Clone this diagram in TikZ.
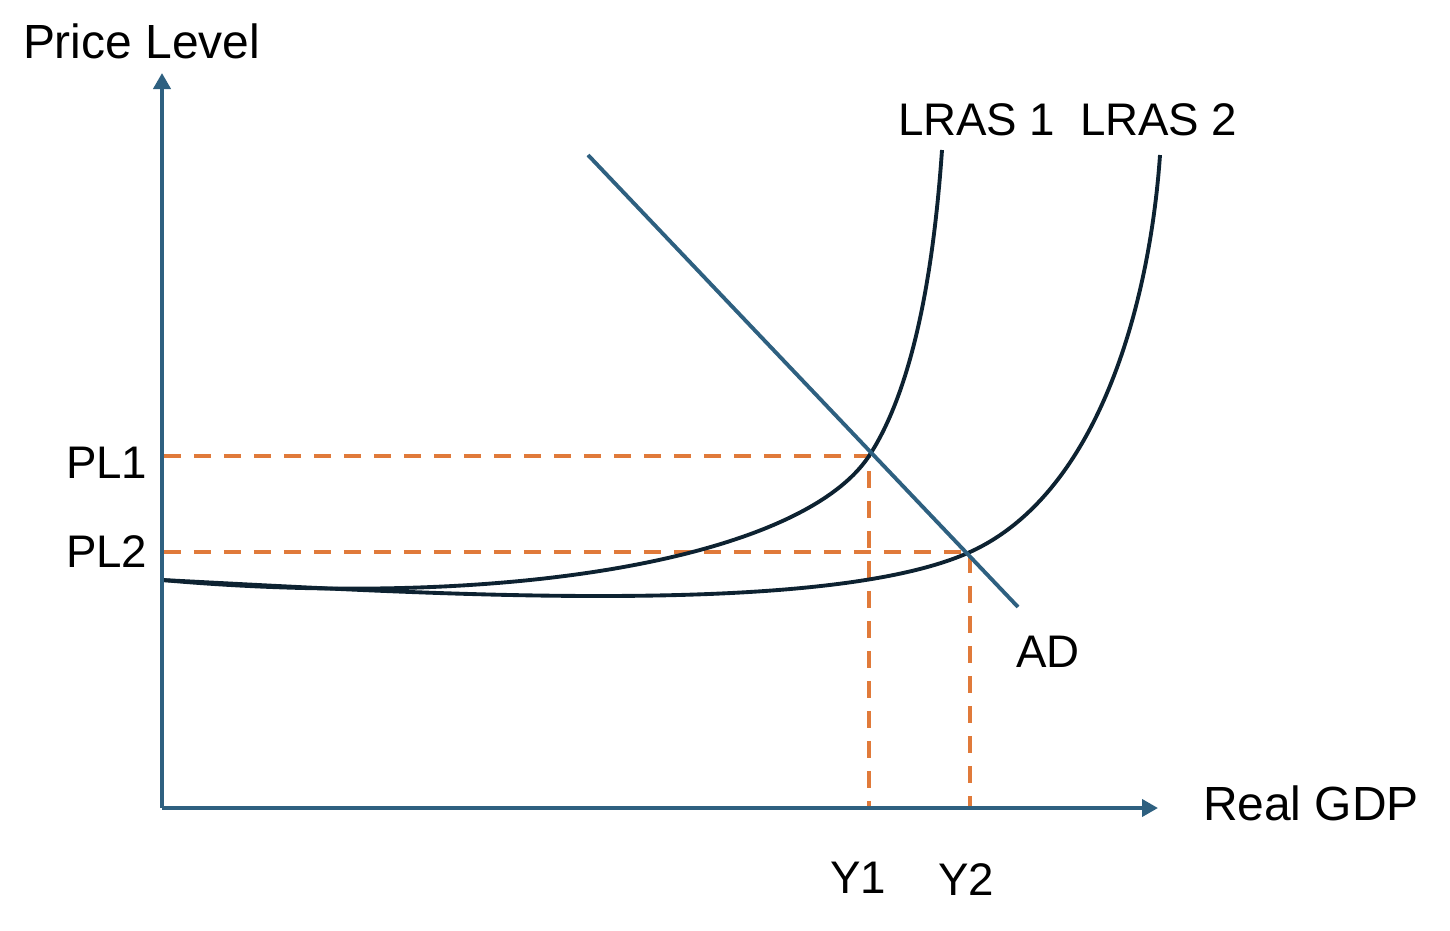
\documentclass[tikz,border=0pt]{standalone}
\usepackage{fontspec}
\setmainfont{Liberation Sans}
\usetikzlibrary{arrows.meta}
\definecolor{axisblue}{HTML}{2E6080}
\definecolor{curvenavy}{HTML}{0D2231}
\definecolor{guideorange}{HTML}{E07A3A}
\tikzset{
  axisline/.style={draw=axisblue, line width=2.2pt, -{Triangle[length=0.32cm,width=0.34cm]}},
  adline/.style={draw=axisblue, line width=2.2pt},
  supply/.style={draw=curvenavy, line width=2.2pt},
  guide/.style={draw=guideorange, line width=2pt, dash pattern=on 0.34cm off 0.26cm},
  lbl/.style={anchor=base west, inner sep=0pt, outer sep=0pt, font=\fontsize{26}{30}\selectfont, text=black}
}
\begin{document}
\begin{tikzpicture}[x=0.02cm,y=-0.02cm]
\useasboundingbox (0,0) rectangle (1450,930);
% coordinates
\coordinate (O) at (162,808);
\coordinate (ytip) at (162,73);
\coordinate (xtip) at (1158,808);
\coordinate (adstart) at (588,155);
\coordinate (adend) at (1018,607);
\coordinate (E1) at (869,456);
\coordinate (E2) at (970,552);
\coordinate (Y1ax) at (869,808);
\coordinate (Y2ax) at (970,808);
\coordinate (PL1ax) at (164,456);
\coordinate (PL2ax) at (164,552);
\coordinate (s1start) at (162,580);
\coordinate (s1top) at (942,150);
\coordinate (s2top) at (1160,155);
% guides
\draw[guide] (PL1ax) -- (E1) -- (Y1ax);
\draw[guide] (PL2ax) -- (E2) -- (Y2ax);
% supply curves
\draw[supply] (s1start) .. controls (500,610) and (800,560) .. (E1)
  .. controls (918,381) and (935,250) .. (s1top);
\draw[supply] (s1start) .. controls (400,592) and (820,620) .. (E2)
  .. controls (1100,493) and (1150,300) .. (s2top);
% AD
\draw[adline] (adstart) -- (adend);
% axes
\draw[axisline] (O) -- (ytip);
\draw[axisline] (O) -- (xtip);
% labels
\node[lbl, font=\fontsize{27.3}{31}\selectfont] (pricelevel) at (23,58) {Price Level};
\node[lbl] (lras1) at (898,135) {LRAS 1};
\node[lbl] (lras2) at (1080,135) {LRAS 2};
\node[lbl] (pl1) at (66,478) {PL1};
\node[lbl] (pl2) at (66,567) {PL2};
\node[lbl] (ad) at (1016,667) {AD};
\node[lbl, font=\fontsize{27.3}{31}\selectfont] (realgdp) at (1203,820) {Real GDP};
\node[lbl] (y1) at (830,893) {Y1};
\node[lbl] (y2) at (938,895) {Y2};
\end{tikzpicture}
\end{document}
